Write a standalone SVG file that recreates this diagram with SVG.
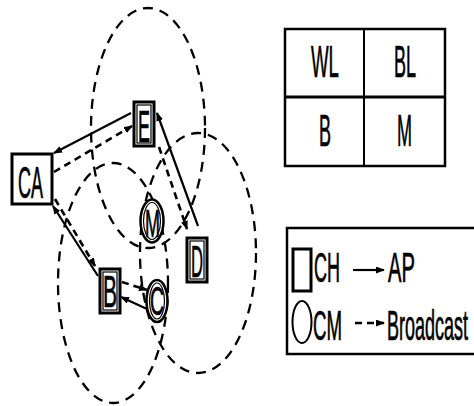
<svg xmlns="http://www.w3.org/2000/svg" width="474" height="406" viewBox="0 0 474 406">
<defs>
<marker id="ah" markerUnits="userSpaceOnUse" markerWidth="9" markerHeight="7" refX="8" refY="3.5" orient="auto">
<path d="M0,0 L9,3.5 L0,7 z" fill="#000"/>
</marker>
<style>
.range{fill:none;stroke:#000;stroke-width:2.3;stroke-dasharray:10 7}
.ap{fill:none;stroke:#000;stroke-width:2.2;marker-end:url(#ah)}
.bc{fill:none;stroke:#000;stroke-width:2.6;stroke-dasharray:7 5;marker-end:url(#ah)}
.box{fill:#fff;stroke:#000;stroke-width:3}
.inner{fill:none;stroke:#000;stroke-width:1.2}
.t{font-family:"Liberation Sans",Arial,sans-serif;fill:#000;stroke:#000;stroke-width:0.7}
</style>
</defs>
<rect width="474" height="406" fill="#fff"/>
<g id="ranges">
<ellipse class="range" cx="148" cy="128" rx="57" ry="120"/>
<ellipse class="range" cx="198" cy="253" rx="58" ry="120"/>
<ellipse class="range" cx="113" cy="283" rx="55" ry="120"/>
</g>
<g id="connectors">
<line class="ap" x1="131" y1="113" x2="54" y2="153"/>
<line class="bc" x1="54" y1="172" x2="132" y2="126"/>
<line class="ap" x1="98" y1="276" x2="53" y2="206"/>
<line class="bc" x1="55" y1="199" x2="95" y2="266"/>
<line class="ap" x1="198" y1="226" x2="157" y2="113"/>
<line class="bc" x1="159" y1="147" x2="187" y2="229"/>
<line class="ap" x1="147" y1="309" x2="121" y2="297"/>
<line class="bc" x1="122" y1="282" x2="147" y2="290"/>
</g>
<g id="node-CA">
<rect class="box" x="12" y="154" width="40" height="50"/>
<text class="t" x="18" y="198" font-size="44" textLength="25" lengthAdjust="spacingAndGlyphs">CA</text>
</g>
<g id="node-E">
<rect class="box" x="134" y="102" width="20" height="44"/>
<rect class="inner" x="137" y="105" width="14" height="38"/>
<text class="t" x="138" y="142" font-size="44" textLength="12" lengthAdjust="spacingAndGlyphs">E</text>
</g>
<g id="node-B">
<rect class="box" x="100" y="269" width="20" height="44"/>
<rect class="inner" x="103" y="272" width="14" height="38"/>
<text class="t" x="103" y="307" font-size="44" textLength="14" lengthAdjust="spacingAndGlyphs">B</text>
</g>
<g id="node-D">
<rect class="box" x="187" y="238" width="20" height="44"/>
<rect class="inner" x="190" y="241" width="14" height="38"/>
<text class="t" x="191" y="277" font-size="44" textLength="12" lengthAdjust="spacingAndGlyphs">D</text>
</g>
<g id="node-M">
<ellipse cx="152" cy="221" rx="11.5" ry="21.5" fill="#fff" stroke="#000" stroke-width="2.5"/>
<ellipse class="inner" cx="152" cy="221" rx="8.5" ry="18.5"/>
<text class="t" x="145" y="237" font-size="38" textLength="15" lengthAdjust="spacingAndGlyphs">M</text>
</g>
<g id="node-C">
<ellipse cx="157" cy="301" rx="10.5" ry="21" fill="#fff" stroke="#000" stroke-width="2.5"/>
<ellipse class="inner" cx="157" cy="301" rx="7.5" ry="18"/>
<text class="t" x="150" y="315" font-size="40" textLength="14" lengthAdjust="spacingAndGlyphs">C</text>
</g>
<g id="table">
<rect x="285" y="29" width="160" height="137" fill="none" stroke="#000" stroke-width="2.5"/>
<line x1="285" y1="97" x2="445" y2="97" stroke="#000" stroke-width="3"/>
<line x1="364" y1="29" x2="364" y2="166" stroke="#000" stroke-width="2"/>
<text class="t" x="311" y="77" font-size="44" textLength="28" lengthAdjust="spacingAndGlyphs">WL</text>
<text class="t" x="394" y="77" font-size="44" textLength="22" lengthAdjust="spacingAndGlyphs">BL</text>
<text class="t" x="319" y="146" font-size="44" textLength="12" lengthAdjust="spacingAndGlyphs">B</text>
<text class="t" x="397" y="146" font-size="44" textLength="15" lengthAdjust="spacingAndGlyphs">M</text>
</g>
<g id="legend">
<rect x="287" y="228" width="200" height="126" fill="none" stroke="#000" stroke-width="2.5"/>
<rect x="293" y="249" width="18" height="42" fill="none" stroke="#000" stroke-width="3"/>
<text class="t" x="314" y="282" font-size="42" textLength="26" lengthAdjust="spacingAndGlyphs">CH</text>
<line class="ap" x1="353" y1="270" x2="384" y2="270" stroke-width="3"/>
<text class="t" x="388" y="282" font-size="42" textLength="27" lengthAdjust="spacingAndGlyphs">AP</text>
<ellipse cx="302" cy="322" rx="9.5" ry="21" fill="none" stroke="#000" stroke-width="2"/>
<text class="t" x="313" y="340" font-size="42" textLength="29" lengthAdjust="spacingAndGlyphs">CM</text>
<line class="bc" x1="355" y1="323" x2="384" y2="323" stroke-width="3"/>
<text class="t" transform="translate(387,340) scale(0.428,1)" x="0" y="0" font-size="42" stroke-width="1.1">Broadcast</text>
</g>
</svg>
